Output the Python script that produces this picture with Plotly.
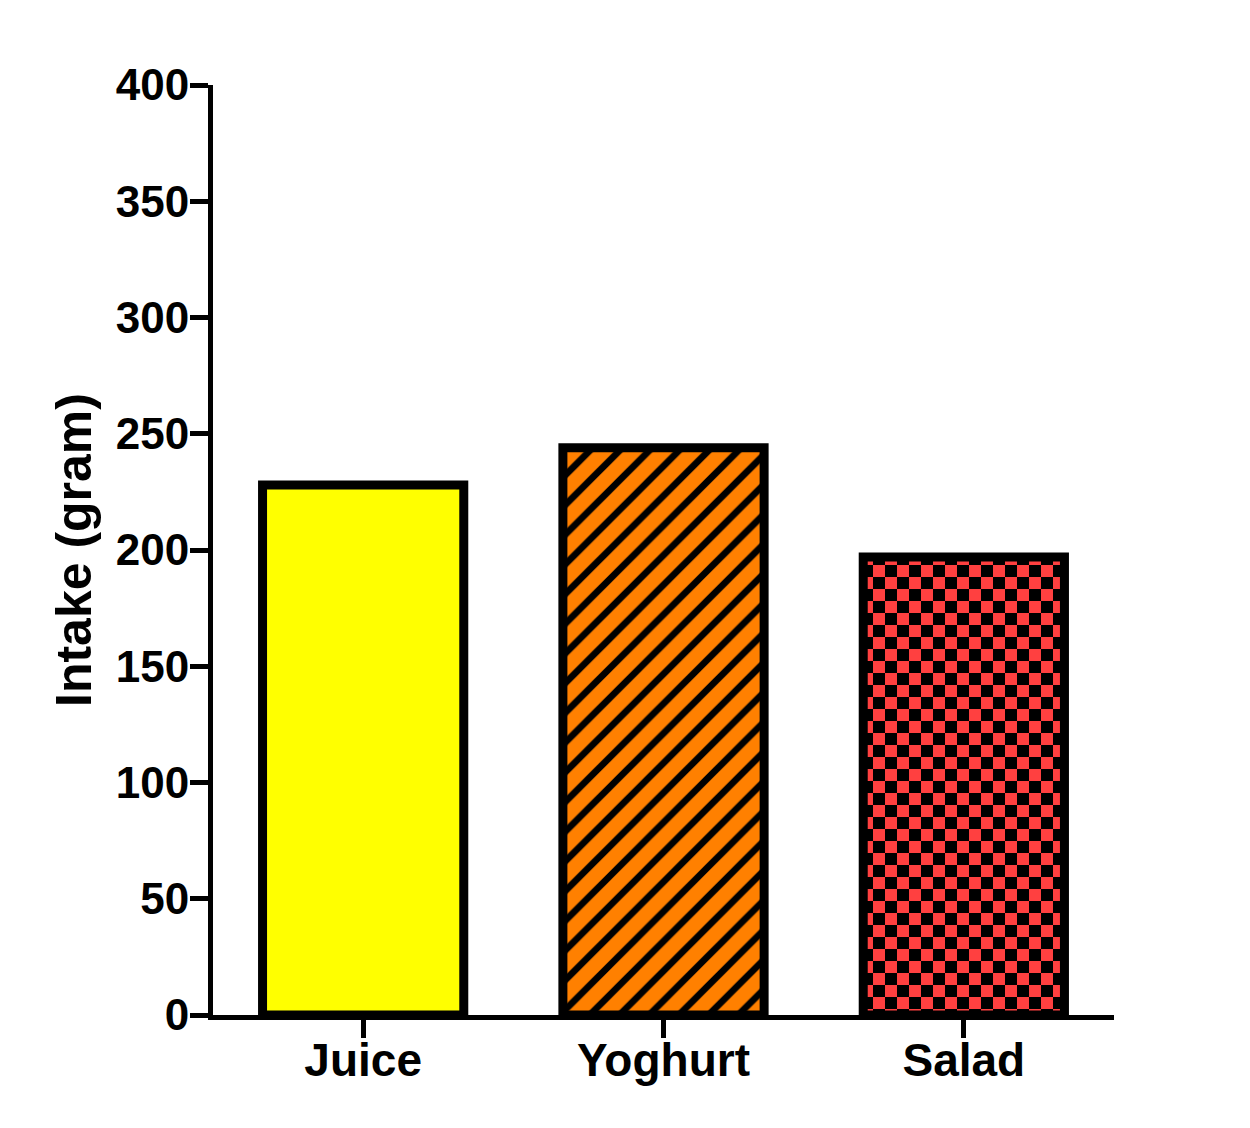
import plotly.graph_objects as go

categories = ["Juice", "Yoghurt", "Salad"]
intake = [228, 244, 197]
bar_colors = ["#FFFF00", "#FF8000", "#FF4040"]
pattern_shapes = ["", "/", "+"]
y_ticks = [0, 50, 100, 150, 200, 250, 300, 350, 400]

FONT = "Liberation Sans, Arial, sans-serif"

fig = go.Figure()
fig.add_trace(go.Bar(
    x=categories,
    y=intake,
    width=0.67,
    marker=dict(
        color=bar_colors,
        line=dict(color="black", width=9),
        pattern=dict(
            shape=pattern_shapes,
            fgcolor="black",
            fgopacity=1,
            size=[10, 21, 24],
            solidity=[0.3, 0.32, 0.5],
            fillmode="overlay",
        ),
    ),
    showlegend=False,
))

fig.update_layout(
    width=1250,
    height=1128,
    margin=dict(l=205, r=144, t=77, b=121),
    paper_bgcolor="white",
    plot_bgcolor="white",
    font=dict(family=FONT, color="black", size=44, weight="bold"),
)

fig.update_xaxes(
    range=[-0.5, 2.5],
    showline=True, linecolor="black", linewidth=5,
    ticks="outside", ticklen=18, tickwidth=5, tickcolor="black",
    tickfont=dict(family=FONT, size=46, color="black", weight="bold"),
    ticklabelstandoff=-17,
    showgrid=False, zeroline=False,
)
fig.update_yaxes(
    range=[0, 400],
    tickvals=y_ticks,
    ticktext=[str(v) for v in y_ticks],
    showline=True, linecolor="black", linewidth=5,
    ticks="outside", ticklen=18, tickwidth=5, tickcolor="black",
    tickfont=dict(family=FONT, size=44, color="black", weight="bold"),
    ticklabelstandoff=-8,
    showgrid=False, zeroline=False,
    title=dict(text="Intake (gram)", font=dict(family=FONT, size=50, color="black", weight="bold"), standoff=10),
)

post = """
var gd = document.getElementById('{plot_id}');
function patOf(p){
  var fill = p.style.fill || p.getAttribute('fill') || '';
  var m = /#([^'")]+)/.exec(fill);
  return m ? document.getElementById(m[1]) : null;
}
function fixPatterns(){
  try {
    var paths = gd.querySelectorAll('.barlayer .point path');
    if (paths.length < 3) return;
    var hp = patOf(paths[1]);
    if (hp) {
      hp.querySelectorAll('path').forEach(function(e){
        e.style.stroke = '#000000';
        e.style.strokeOpacity = '1';
        e.style.opacity = '1';
        e.setAttribute('stroke', '#000000');
      });
    }
    var pat = patOf(paths[2]);
    if (!pat || pat.getAttribute('data-checker')) return;
    var ns = 'http://www.w3.org/2000/svg';
    while (pat.firstChild) pat.removeChild(pat.firstChild);
    pat.setAttribute('width', 24);
    pat.setAttribute('height', 24);
    pat.removeAttribute('patternTransform');
    pat.setAttribute('data-checker', '1');
    function r(x, y, w, h, c){
      var e = document.createElementNS(ns, 'rect');
      e.setAttribute('x', x); e.setAttribute('y', y);
      e.setAttribute('width', w); e.setAttribute('height', h);
      e.setAttribute('fill', c);
      e.setAttribute('shape-rendering', 'crispEdges');
      pat.appendChild(e);
    }
    r(0, 0, 24, 24, '#FF4040');
    r(0, 0, 12, 12, '#000000');
    r(12, 12, 12, 12, '#000000');
  } catch (e) {}
}
fixPatterns();
gd.on('plotly_afterplot', fixPatterns);
"""

fig.write_html("out.html", post_script=post, config={"responsive": False})
